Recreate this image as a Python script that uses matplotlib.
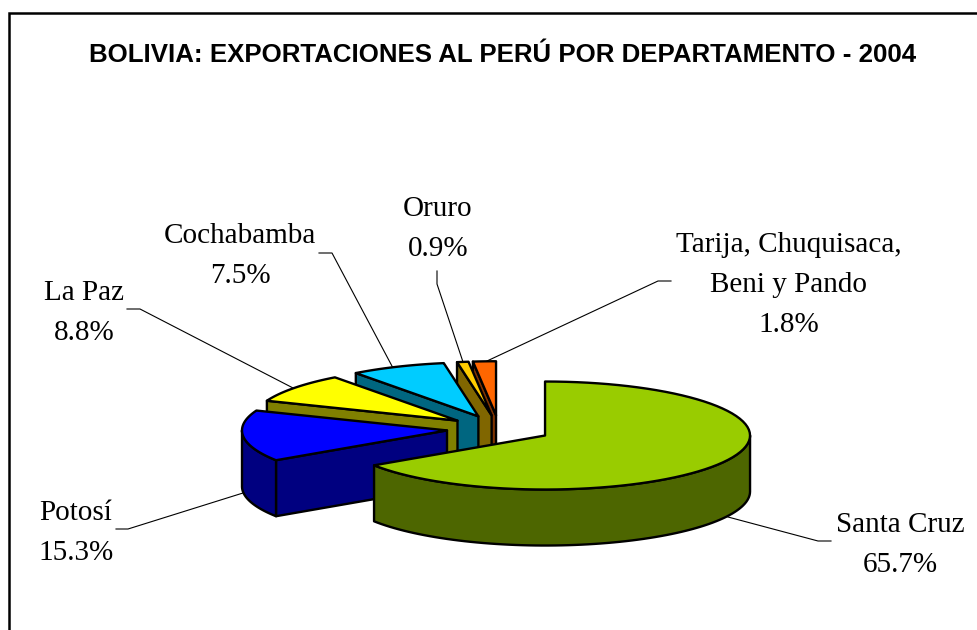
# exportaciones de Bolivia al Peru, pastel 3D con porciones separadas
import numpy as np
import matplotlib
matplotlib.use('Agg')
import matplotlib.pyplot as plt
from matplotlib.patches import Polygon

departamentos = ['Santa Cruz', 'Potosí', 'La Paz', 'Cochabamba', 'Oruro', 'Tarija, Chuquisaca,\nBeni y Pando']
porcentajes = [65.7, 15.3, 8.8, 7.5, 0.9, 1.8]
etiquetas = ['65.7%', '15.3%', '8.8%', '7.5%', '0.9%', '1.8%']

color_top = ['#99CC00', '#0000FF', '#FFFF00', '#00CCFF', '#FFCC00', '#FF6600']
color_lado = ['#4D6600', '#000080', '#808000', '#006680', '#806600', '#803300']

# geometria del pastel, en pixeles
cx, cy = 499, 429
rx, ry = 205, 54
alto = 56
explode = 0.255
lw_pie = 1.7

# centro x de cada rotulo y linea base de su primer renglon
rotulo_x = [900, 76, 84, 240, 438, 789]
rotulo_y = [532, 520, 300, 243, 216, 252]

# lineas guia
guia_x = [[831, 818, 728], [116, 128, 243], [127, 140, 295], [319, 332, 393], [437, 437, 463], [671, 658, 487]]
guia_y = [[541, 541, 517], [529, 529, 493], [309, 309, 389], [253, 253, 368], [271, 284, 362], [281, 281, 361]]

fig = plt.figure(figsize=(9.77, 6.3), dpi=100)
ax = fig.add_axes([0, 0, 1, 1])
ax.set_xlim(0, 977)
ax.set_ylim(630, 0)
ax.axis('off')


def borde(x0, y0, t1, t2):
    # puntos del arco, t en grados en sentido horario desde las 12
    t = np.radians(np.linspace(t1, t2, 80))
    return np.column_stack([x0 + rx * np.sin(t), y0 - ry * np.cos(t)])


def pared(puntos, color, z):
    abajo = puntos[::-1] + [0, alto]
    ax.add_patch(Polygon(np.vstack([puntos, abajo]), closed=True, facecolor=color,
                         edgecolor='black', lw=lw_pie, joinstyle='round', zorder=z))


inicio = 0
porciones = []
for i, p in enumerate(porcentajes):
    fin = inicio + p * 3.6
    porciones.append((i, inicio, min(fin, 360)))
    inicio = fin

# de atras hacia adelante
for z, (i, t1, t2) in enumerate(porciones[::-1]):
    medio = np.radians((t1 + t2) / 2)
    x0 = cx + explode * rx * np.sin(medio)
    y0 = cy - explode * ry * np.cos(medio)
    z = z * 10 + 2

    # pared del corte, solo se ve en las porciones de la izquierda
    if t1 >= 180:
        pared(np.vstack([borde(x0, y0, t1, t1), [[x0, y0]]]), color_lado[i], z)
    # pared exterior, solo la mitad de adelante
    a = max(t1, 90)
    b = min(t2, 270)
    if a < b:
        pared(borde(x0, y0, a, b), color_lado[i], z + 1)
    # tapa
    tapa = np.vstack([[[x0, y0]], borde(x0, y0, t1, t2)])
    ax.add_patch(Polygon(tapa, closed=True, facecolor=color_top[i], edgecolor='black',
                         lw=lw_pie, joinstyle='round', zorder=z + 2))

# rotulos
for i in range(len(departamentos)):
    lineas = departamentos[i].split('\n') + [etiquetas[i]]
    for n, texto in enumerate(lineas):
        ax.text(rotulo_x[i], rotulo_y[i] + n * 40, texto, family='Liberation Serif', fontsize=21,
                ha='center', va='baseline', color='black', zorder=100)
    ax.plot(guia_x[i], guia_y[i], color='black', lw=0.8, zorder=1)

ax.text(503, 62, 'BOLIVIA: EXPORTACIONES AL PERÚ POR DEPARTAMENTO - 2004', family='Liberation Sans',
        fontweight='bold', fontsize=18.6, ha='center', va='baseline', color='black')

# marco, solo arriba y a la izquierda
ax.plot([8.5, 8.5, 977], [630, 13, 13], color='black', lw=1.8, solid_joinstyle='miter')

fig.savefig('out.png', dpi=100, facecolor='white')
